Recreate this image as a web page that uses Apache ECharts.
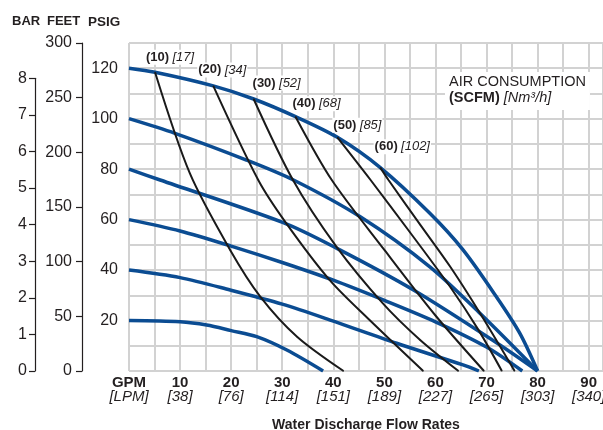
<!DOCTYPE html>
<html>
<head>
<meta charset="utf-8">
<script src="https://cdn.jsdelivr.net/npm/echarts@6/dist/echarts.min.js"></script>
<style>
  html, body { margin: 0; padding: 0; background: #fff; }
  #chart { width: 603px; height: 430px; }
</style>
</head>
<body>
<div id="chart"></div>
<script>
// flow axis: GPM with LPM equivalents underneath
const gpmTicks = [0, 10, 20, 30, 40, 50, 60, 70, 80, 90];
const lpmTicks = ['LPM', '38', '76', '114', '151', '189', '227', '265', '303', '340'];

// discharge pressure curves (PSIG) for each air inlet pressure, [gpm, psig]
const psi120 = [[0, 120], [5.1, 118.4], [16.5, 113], [24.4, 107.8], [32.6, 100.8], [40.8, 92.6], [49.2, 80.6], [58.9, 62.5], [65.4, 48], [71.9, 29.5], [76.5, 15], [80, 0]];
const psi100 = [[0, 100], [9, 94.2], [23, 83.6], [32.2, 75.7], [45.2, 61.2], [58.9, 41.3], [68.7, 22.9], [80, 0]];
const psi80 = [[0, 80], [6.1, 75.7], [30.2, 58.8], [40.7, 48.6], [55.7, 32.1], [72.1, 11], [80, 0]];
const psi60 = [[0, 60], [10, 55.5], [20, 49.5], [30, 43], [40, 36], [50, 28], [60, 19.5], [70, 9.5], [77, 0]];
const psi40 = [[0, 40], [10, 37], [19.8, 32.1], [30, 26.5], [39.4, 20.2], [52.4, 11], [65.4, 2.4], [68.5, 0]];
const psi20 = [[0, 20], [10, 19.5], [15.2, 18.2], [20, 16], [25, 13.6], [30.9, 8.3], [38, 0]];

// constant air consumption curves (SCFM)
const scfm10 = [[5.1, 118.4], [11.9, 78.4], [19.8, 48], [25.7, 29.5], [32.9, 13.6], [42, 0]];
const scfm20 = [[16.5, 113], [25.3, 75.7], [30.8, 58.5], [39.3, 36], [47.1, 20.2], [57.6, 0]];
const scfm30 = [[24.4, 107.8], [32.1, 75.7], [40.6, 49.3], [49.7, 26.8], [57, 12.3], [64.5, 0]];
const scfm40 = [[32.6, 100.8], [39.7, 75.7], [50, 48], [60, 22], [69.5, 0]];
const scfm50 = [[40.8, 92.6], [47.3, 75.7], [55, 55], [63, 33], [68.5, 16], [73, 0]];
const scfm60 = [[49.2, 80.6], [50.8, 75.7], [57, 58], [63, 41], [69, 22], [75.5, 0]];

const scfmNames = ['10', '20', '30', '40', '50', '60'];
const nm3Names = ['17', '34', '52', '68', '85', '102'];

const BLUE = '#0b4c92';
const INK = '#231f20';
const FONT = '"Liberation Sans", Arial, sans-serif';

// where each (scfm) [nm3/h] label sits relative to the start of its curve
const labelOffsets = [[15, -15], [9, -16], [23, -16], [21, -13], [20, -12], [22, -21]];

const chart = echarts.init(document.getElementById('chart'));

const series = [];
[psi120, psi100, psi80, psi60, psi40, psi20].forEach(d => {
  series.push({
    type: 'line',
    data: d,
    smooth: 0.3,
    symbol: 'none',
    lineStyle: { color: BLUE, width: 3.5 },
    z: 3
  });
});
[scfm10, scfm20, scfm30, scfm40, scfm50, scfm60].forEach((d, i) => {
  series.push({
    type: 'line',
    data: d.map((p, j) => j === 0 ? {
      value: p,
      label: {
        show: true,
        position: 'inside',
        offset: labelOffsets[i],
        formatter: '{b|(' + scfmNames[i] + ')} {i|[' + nm3Names[i] + ']}',
        backgroundColor: '#fff',
        padding: [1, 1],
        rich: {
          b: { fontFamily: FONT, fontWeight: 'bold', fontSize: 13, color: INK },
          i: { fontFamily: FONT, fontStyle: 'italic', fontSize: 13, color: INK }
        }
      }
    } : p),
    smooth: 0.3,
    symbol: 'circle',
    symbolSize: 1,
    showSymbol: true,
    itemStyle: { color: '#1a1a1a' },
    lineStyle: { color: '#1a1a1a', width: 2 },
    z: 4
  });
});

const option = {
  animation: false,
  grid: [
    { left: 129, right: 0, top: 43, bottom: 59, outerBoundsMode: 'none' },
    { left: 82, width: 1, top: 43, bottom: 59, outerBoundsMode: 'none' },
    { left: 35, width: 1, top: 78.3, bottom: 59, outerBoundsMode: 'none' }
  ],
  xAxis: [
    {
      gridIndex: 0,
      type: 'value',
      min: 0,
      max: 92.8,
      interval: 5,
      axisLine: { show: false },
      axisTick: { show: false },
      splitLine: { show: true, lineStyle: { color: '#d2d2d2', width: 2 } },
      axisLabel: {
        margin: 5,
        formatter: v => {
          const k = gpmTicks.indexOf(v);
          if (k < 0) return '';
          return (k === 0 ? '{b|GPM}' : '{b|' + v + '}') + '\n{i|[' + lpmTicks[k] + ']}';
        },
        rich: {
          b: { fontFamily: FONT, fontWeight: 'bold', fontSize: 15, color: INK, lineHeight: 14 },
          i: { fontFamily: FONT, fontStyle: 'italic', fontSize: 15, color: INK, lineHeight: 14 }
        }
      },
      name: 'Water Discharge Flow Rates',
      nameLocation: 'middle',
      nameGap: 47,
      nameTextStyle: { fontFamily: FONT, fontWeight: 'bold', fontSize: 14, color: INK }
    },
    { gridIndex: 1, type: 'value', show: false, min: 0, max: 1 },
    { gridIndex: 2, type: 'value', show: false, min: 0, max: 1 }
  ],
  yAxis: [
    {
      gridIndex: 0,
      type: 'value',
      min: 0,
      max: 130,
      interval: 10,
      axisLine: { show: false },
      axisTick: { show: false },
      splitLine: { show: true, lineStyle: { color: '#d2d2d2', width: 2 } },
      axisLabel: {
        margin: 11,
        fontFamily: FONT,
        fontSize: 16,
        color: INK,
        formatter: v => (v > 0 && v % 20 === 0) ? String(v) : ''
      }
    },
    {
      gridIndex: 1,
      type: 'value',
      min: 0,
      max: 300,
      interval: 50,
      axisLine: { show: true, lineStyle: { color: INK, width: 1.2 } },
      axisTick: { show: true, length: 6, lineStyle: { color: INK, width: 1.2 } },
      splitLine: { show: false },
      axisLabel: { margin: 10, fontFamily: FONT, fontSize: 16, color: INK }
    },
    {
      gridIndex: 2,
      type: 'value',
      min: 0,
      max: 8,
      interval: 1,
      axisLine: { show: true, lineStyle: { color: INK, width: 1.2 } },
      axisTick: { show: true, length: 6, lineStyle: { color: INK, width: 1.2 } },
      splitLine: { show: false },
      axisLabel: { margin: 8, fontFamily: FONT, fontSize: 16, color: INK }
    }
  ],
  graphic: [
    { type: 'text', left: 12, top: 15, style: { text: 'BAR', font: 'bold 13px ' + FONT, fill: INK } },
    { type: 'text', left: 47, top: 15, style: { text: 'FEET', font: 'bold 13px ' + FONT, fill: INK } },
    { type: 'text', left: 88, top: 15, style: { text: 'PSIG', font: 'bold 13.5px ' + FONT, fill: INK } },
    {
      type: 'text',
      left: 445,
      top: 72,
      z: 10,
      style: {
        text: 'AIR CONSUMPTION\n{b|(SCFM)} {i|[Nm³/h]}',
        font: '14.5px ' + FONT,
        fill: INK,
        align: 'center',
        lineHeight: 16,
        backgroundColor: '#fff',
        padding: [2, 4, 4, 4],
        rich: {
          b: { fontFamily: FONT, fontWeight: 'bold', fontSize: 14.5, color: INK, lineHeight: 16 },
          i: { fontFamily: FONT, fontStyle: 'italic', fontSize: 14.5, color: INK, lineHeight: 16 }
        }
      }
    }
  ],
  series: series
};

chart.setOption(option);
</script>
</body>
</html>
